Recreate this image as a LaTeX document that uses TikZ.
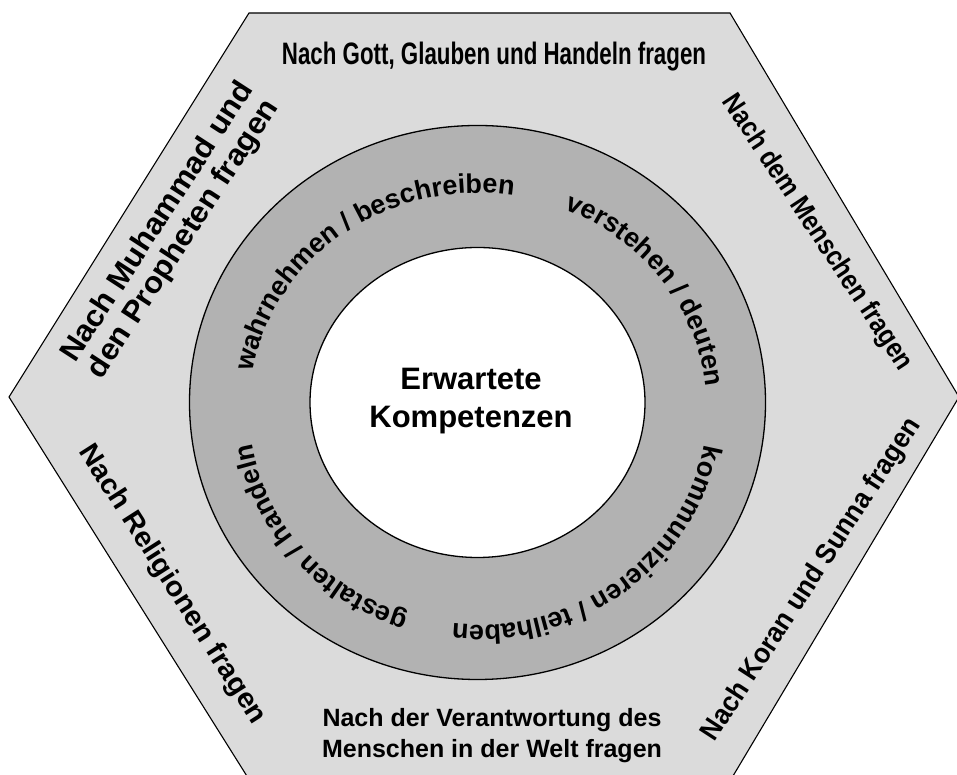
\documentclass[tikz,border=0pt]{standalone}
\usepackage{fontspec}
\setmainfont{Liberation Sans}
\usetikzlibrary{decorations.text}
\definecolor{hexgrey}{gray}{0.86}
\definecolor{ringgrey}{gray}{0.70}
\newcommand{\ringfont}{\fontsize{27}{30}\selectfont\bfseries}
\tikzset{hexface/.style={draw=black,line width=1.1pt,fill=hexgrey},
  ringface/.style={draw=black,line width=1.3pt,fill=ringgrey},
  coreface/.style={draw=black,line width=1.3pt,fill=white},
  corelabel/.style={align=center,font=\fontsize{31}{38}\selectfont\bfseries},
  sidelabel/.style={inner sep=0pt,font=\fontsize{28}{31}\selectfont\bfseries},
  ringtext/.style={decorate,decoration={text along path,text align=center,text={|\ringfont|#1}}}}

\begin{document}
\begin{tikzpicture}[x=1pt,y=1pt]
\useasboundingbox (0,0) rectangle (957,775);

% Sechseck
\draw[hexface] (249,762) -- (730,762) -- (959,378) -- (730,-6) -- (250,-6) -- (9,378) -- cycle;

% Ring und Kern
\coordinate (mid) at (477.5,372.5);
\coordinate (textmid) at (478,366);
\draw[ringface] (mid) ellipse [x radius=288,y radius=277];
\draw[coreface] (mid) ellipse [x radius=167.5,y radius=155];

% Kompetenzen im Ring
\path[ringtext={wahrnehmen / beschreiben}] (textmid) ++(186:229 and 216) arc[start angle=186,end angle=66,x radius=229,y radius=216];
\path[ringtext={verstehen / deuten}] (textmid) ++(96:229 and 216) arc[start angle=96,end angle=-24,x radius=229,y radius=216];
\path[ringtext={kommunizieren / teilhaben}] (textmid) ++(7.5:229 and 216) arc[start angle=7.5,end angle=-112.5,x radius=229,y radius=216];
\path[ringtext={gestalten / handeln}] (textmid) ++(280:229 and 216) arc[start angle=280,end angle=160,x radius=229,y radius=216];

\node[corelabel] (kern) at (471,374) {Erwartete\\Kompetenzen};

% Seiten des Sechsecks
\node[sidelabel,xscale=.72,font=\fontsize{31}{31}\selectfont\bfseries] (gott) at (494,718) {Nach Gott, Glauben und Handeln fragen};
\node[sidelabel,rotate=-56.6,xscale=.87] (menschen) at (817,542) {Nach dem Menschen fragen};
\node[sidelabel,rotate=57,xscale=.94] (koran) at (812,195) {Nach Koran und Sunna fragen};
\node[sidelabel,align=center,font=\fontsize{25}{31}\selectfont\bfseries] (welt) at (492,39) {Nach der Verantwortung des\\Menschen in der Welt fragen};
\node[sidelabel,rotate=-57.4,xscale=1.04] (religionen) at (172,190) {Nach Religionen fragen};
\node[sidelabel,align=center,rotate=57,xscale=1.05,font=\fontsize{30}{31}\selectfont\bfseries] (muhammad) at (171,544) {Nach Muhammad und\\den Propheten fragen};
\end{tikzpicture}
\end{document}
